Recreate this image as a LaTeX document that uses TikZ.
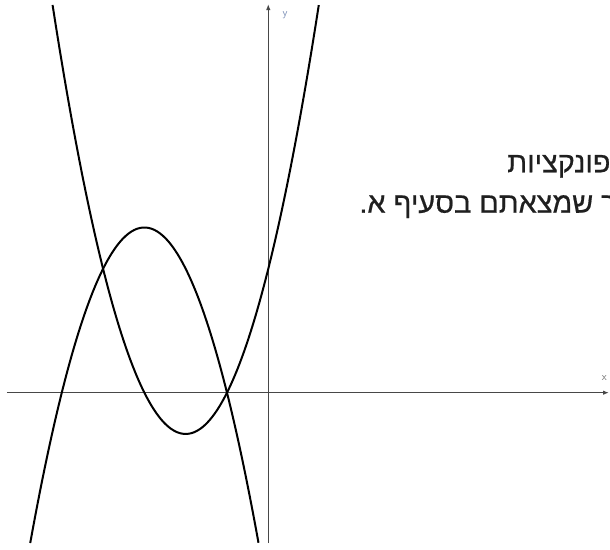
\documentclass[tikz,border=0pt]{standalone}
\usepackage{fontspec}
\newfontfamily\hebfont[Script=Hebrew,FakeBold=0.6]{Liberation Sans}
\TeXXeTstate=1
\usetikzlibrary{arrows.meta}

\definecolor{ylabel}{RGB}{120,140,180}

\begin{document}
\begin{tikzpicture}[
  x=41.3pt, y=41.3pt,
  axis/.style={-{Latex[length=6pt,width=4.5pt]}, line width=1.2pt, draw=black!72},
  graph/.style={line width=2pt, draw=black, smooth},
  axlabel/.style={font=\sffamily\fontsize{11}{12}\selectfont, inner sep=0pt},
  heb/.style={font=\hebfont\fontsize{28.8}{32}\selectfont, text=black!88, anchor=base east, inner sep=0pt}
]

% Frame of the crop (px -> units: origin at the axes crossing).
\def\xl{-6.496}
\def\xr{8.274}
\def\yb{-3.785}
\def\yt{9.508}
\useasboundingbox (\xl,\yb) rectangle (\xr,\yt);
\clip (\xl,\yb) rectangle (\xr,\yt);

% Axes.
\coordinate (xstart) at (-6.33,0);
\coordinate (xend) at (8.25,0);
\coordinate (ystart) at (0,-3.64);
\coordinate (yend) at (0,9.41);
\draw[axis] (xstart) -- (xend);
\draw[axis] (ystart) -- (yend);
\node[axlabel, text=black!55] (xlab) at (8.136,0.356) {x};
\node[axlabel, text=ylabel] (ylab) at (0.404,9.145) {y};

% The two parabolas, cut at the top and bottom of the crop.
\draw[graph, domain=-5.223:1.223, samples=80] plot (\x, {(\x+1)*(\x+3)});
\draw[graph, domain=-5.764:-0.236, samples=80] plot (\x, {-(\x+1)*(\x+5)});

% Question text, cut by the right edge.
\node[heb] (line1) at (8.29,5.337) {\beginR פונקציות\endR};
\node[heb] (line2) at (8.44,4.358) {\beginR ר שמצאתם בסעיף א.\endR};

\end{tikzpicture}
\end{document}
